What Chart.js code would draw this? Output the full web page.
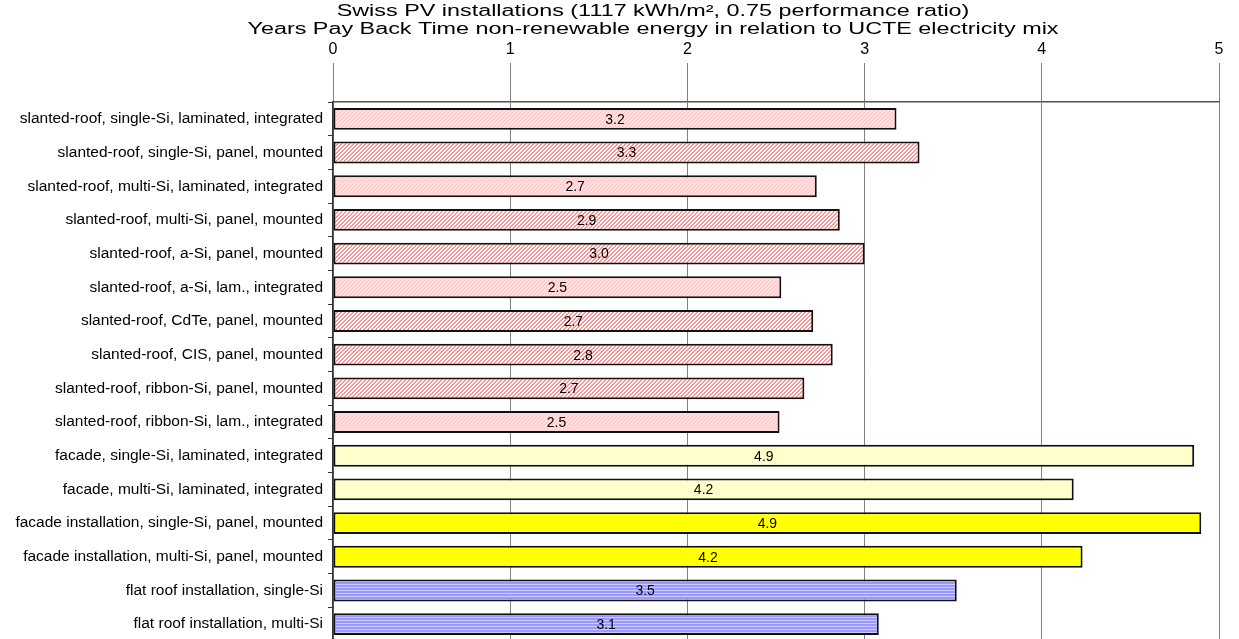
<!DOCTYPE html>
<html>
<head>
<meta charset="utf-8">
<script src="https://cdn.jsdelivr.net/npm/chart.js@4"></script>
<style>
  body { margin: 0; background: #fff; overflow: hidden; }
  #wrap { width: 1239px; height: 639px; overflow: hidden; }
</style>
</head>
<body>
<div id="wrap"><canvas id="pbChart" width="1239" height="641"></canvas></div>
<script>
const titleLines = [
    'Swiss PV installations (1117 kWh/m², 0.75 performance ratio)',
    'Years Pay Back Time non-renewable energy in relation to UCTE electricity mix'
];

const categories = [
    'slanted-roof, single-Si, laminated, integrated',
    'slanted-roof, single-Si, panel, mounted',
    'slanted-roof, multi-Si, laminated, integrated',
    'slanted-roof, multi-Si, panel, mounted',
    'slanted-roof, a-Si, panel, mounted',
    'slanted-roof, a-Si, lam., integrated',
    'slanted-roof, CdTe, panel, mounted',
    'slanted-roof, CIS, panel, mounted',
    'slanted-roof, ribbon-Si, panel, mounted',
    'slanted-roof, ribbon-Si, lam., integrated',
    'facade, single-Si, laminated, integrated',
    'facade, multi-Si, laminated, integrated',
    'facade installation, single-Si, panel, mounted',
    'facade installation, multi-Si, panel, mounted',
    'flat roof installation, single-Si',
    'flat roof installation, multi-Si'
];

const payBackYears = [3.18, 3.31, 2.73, 2.86, 3.00, 2.53, 2.71, 2.82, 2.66, 2.52, 4.86, 4.18, 4.90, 4.23, 3.52, 3.08];

// fill style per bar
const fillKinds = ['pinkLight', 'pinkDense', 'pinkLight', 'pinkDense', 'pinkDense', 'pinkLight', 'pinkDense', 'pinkDense', 'pinkDense', 'pinkLight',
                   'yellowPlain', 'yellowPlain', 'yellowStripe', 'yellowStripe', 'blueStripe', 'blueStripe'];

const xTicks = [0, 1, 2, 3, 4, 5];

const FONT = "'Liberation Sans', Arial, sans-serif";

function makePattern(w, h, bg, fg, on) {
    const c = document.createElement('canvas');
    c.width = w; c.height = h;
    const g = c.getContext('2d');
    g.fillStyle = bg;
    g.fillRect(0, 0, w, h);
    g.fillStyle = fg;
    for (let y = 0; y < h; y++) {
        for (let x = 0; x < w; x++) {
            if (on(x, y)) g.fillRect(x, y, 1, 1);
        }
    }
    return g.createPattern(c, 'repeat');
}

const patterns = {
    pinkLight: makePattern(4, 4, '#ffe0e0', '#ffc4c4', (x, y) => (x + y) % 4 === 0),
    pinkDense: makePattern(4, 4, '#ffffff', '#ff9494', (x, y) => (x + y) % 4 < 2),
    yellowPlain: '#ffffcc',
    yellowStripe: makePattern(2, 2, '#ffffa0', '#ffff00', (x, y) => x === 0),
    blueStripe: makePattern(3, 3, '#ccccff', '#9999ff', (x, y) => y < 2)
};

const barFills = fillKinds.map(k => patterns[k]);

// title drawn a bit right of canvas centre, stretched a little like the original sheet
const titlePlugin = {
    id: 'twoLineTitle',
    afterDraw(chart) {
        const ctx = chart.ctx;
        ctx.save();
        ctx.fillStyle = '#000';
        ctx.font = '16px ' + FONT;
        ctx.textAlign = 'center';
        ctx.textBaseline = 'middle';
        ctx.translate(653, 0);
        ctx.scale(1.46, 1);
        ctx.fillText(titleLines[0], 0, 12);
        ctx.fillText(titleLines[1], 0, 30);
        ctx.restore();
    }
};

// value labels in the middle of each bar
const valueLabels = {
    id: 'valueLabels',
    afterDatasetsDraw(chart) {
        const ctx = chart.ctx;
        const meta = chart.getDatasetMeta(0);
        ctx.save();
        ctx.fillStyle = '#000';
        ctx.font = '14px ' + FONT;
        ctx.textAlign = 'center';
        ctx.textBaseline = 'middle';
        meta.data.forEach((bar, i) => {
            const cx = (bar.x + bar.base) / 2;
            ctx.fillText(payBackYears[i].toFixed(1), cx, bar.y + 1);
        });
        ctx.restore();
    }
};

const ctx = document.getElementById('pbChart').getContext('2d');
const pbChart = new Chart(ctx, {
    type: 'bar',
    data: {
        labels: categories,
        datasets: [{
            data: payBackYears,
            backgroundColor: barFills,
            borderColor: '#111',
            borderWidth: 2,
            borderSkipped: false,
            barPercentage: 0.65,
            categoryPercentage: 1.0
        }]
    },
    options: {
        indexAxis: 'y',
        responsive: false,
        animation: false,
        devicePixelRatio: 1,
        layout: { padding: { top: 40, right: 20, bottom: 0, left: 0 } },
        plugins: {
            legend: { display: false },
            tooltip: { enabled: false },
            title: { display: false }
        },
        scales: {
            x: {
                position: 'top',
                min: 0,
                max: 5,
                afterBuildTicks(scale) {
                    scale.ticks = xTicks.map(v => ({ value: v }));
                },
                afterFit(scale) {
                    scale.height = 62;
                    scale.paddingLeft = 0;
                    scale.paddingRight = 0;
                },
                grid: {
                    color: '#808080',
                    lineWidth: 1,
                    drawTicks: true,
                    tickLength: 39,
                    tickColor: '#808080'
                },
                border: { display: true, color: '#555', width: 1.5 },
                ticks: {
                    color: '#000',
                    font: { family: FONT, size: 16 },
                    padding: 4
                }
            },
            y: {
                afterFit(scale) {
                    scale.width = 333;
                    scale.paddingTop = 0;
                    scale.paddingBottom = 0;
                },
                grid: {
                    offset: true,
                    drawOnChartArea: false,
                    drawTicks: true,
                    tickLength: 5,
                    tickColor: '#333'
                },
                border: { display: true, color: '#333', width: 1.5 },
                ticks: {
                    color: '#000',
                    font: { family: FONT, size: 15.5 },
                    padding: 5,
                    autoSkip: false
                }
            }
        }
    },
    plugins: [titlePlugin, valueLabels]
});
</script>
</body>
</html>
